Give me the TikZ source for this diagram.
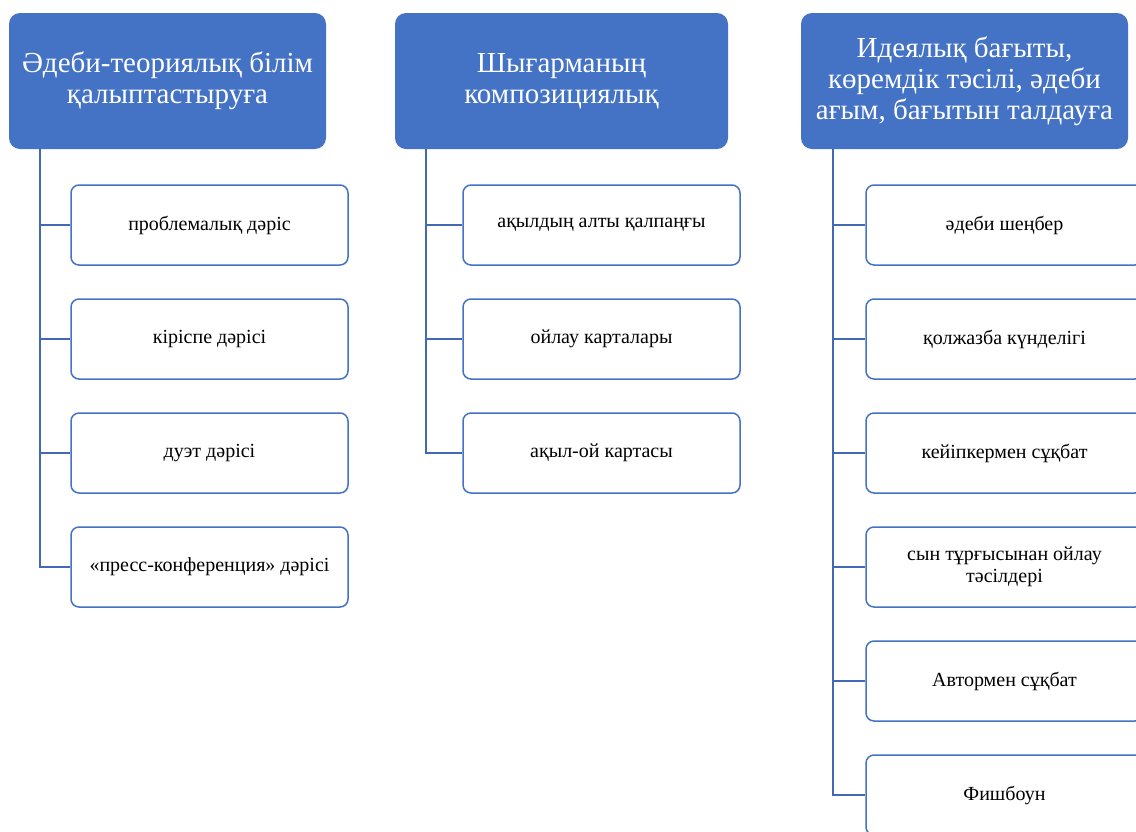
\documentclass[tikz,border=0pt]{standalone}
\usepackage{fontspec}
\setmainfont{Liberation Serif}
\definecolor{hblue}{HTML}{4472C4}
\definecolor{lblue}{HTML}{4169B5}
\begin{document}
\begin{tikzpicture}[x=1pt,y=-1pt,
  head/.style={rectangle,rounded corners=11pt,fill=hblue,text=white,
    minimum height=136pt,align=center,inner sep=0pt,
    font=\fontsize{29}{31}\selectfont},
  item/.style={rectangle,rounded corners=8pt,draw=hblue,line width=1.5pt,fill=white,
    minimum width=277pt,minimum height=80pt,align=center,inner sep=0pt,
    font=\fontsize{20}{22}\selectfont},
  conn/.style={draw=lblue,line width=1.5pt}]
\useasboundingbox (0,0) rectangle (1136,831);
\clip (0,0) rectangle (1136,831);
\fill[white] (0,0) rectangle (1136,831);

\node[head,minimum width=317pt] (h1) at (167.5,81) {Әдеби-теориялық білім\\қалыптастыруға};
\node[head,minimum width=333pt] (h2) at (561.5,81) {Шығарманың\\композициялық};
\node[head,minimum width=327pt] (h3) at (964.5,81) {Идеялық бағыты,\\көремдік тәсілі, әдеби\\ағым, бағытын талдауға};

\coordinate (t1) at (40,149);
\coordinate (t2) at (426,149);
\coordinate (t3) at (833,149);

\node[item] (a1) at (209.5,225) {проблемалық дәріс};
\node[item] (a2) at (209.5,339) {кіріспе дәрісі};
\node[item] (a3) at (209.5,453) {дуэт дәрісі};
\node[item] (a4) at (209.5,567) {«пресс-конференция» дәрісі};

\node[item] (b1) at (601.5,225) {ақылдың алты қалпаңғы};
\node[item] (b2) at (601.5,339) {ойлау карталары};
\node[item] (b3) at (601.5,453) {ақыл-ой картасы};

\node[item] (c1) at (1004.5,225) {әдеби шеңбер};
\node[item] (c2) at (1004.5,339) {қолжазба күнделігі};
\node[item] (c3) at (1004.5,453) {кейіпкермен сұқбат};
\node[item] (c4) at (1004.5,567) {сын тұрғысынан ойлау\\тәсілдері};
\node[item] (c5) at (1004.5,681) {Автормен сұқбат};
\node[item] (c6) at (1004.5,795) {Фишбоун};

\foreach \n in {a1,a2,a3,a4} \draw[conn] (t1) |- (\n.west);
\foreach \n in {b1,b2,b3} \draw[conn] (t2) |- (\n.west);
\foreach \n in {c1,c2,c3,c4,c5,c6} \draw[conn] (t3) |- (\n.west);
\end{tikzpicture}
\end{document}
